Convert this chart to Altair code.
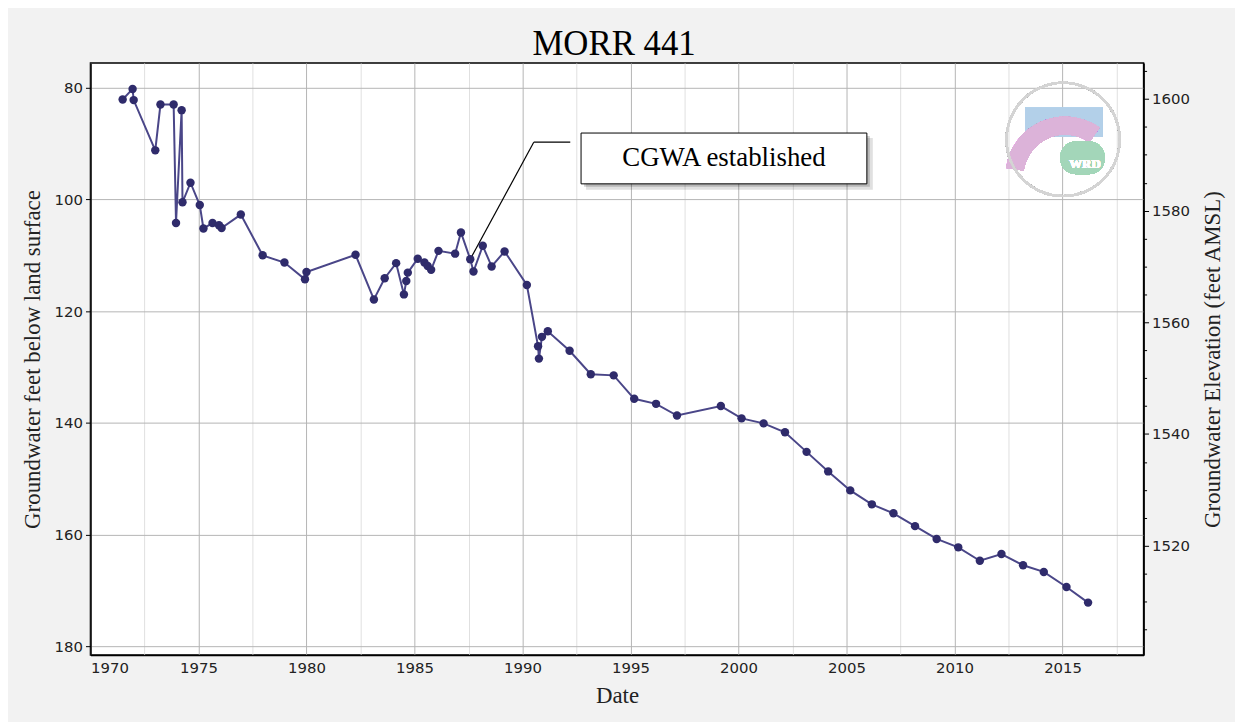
import altair as alt
import pandas as pd

# ---- data ----
dates = [1971.49, 1971.95, 1972.00, 1973.00, 1973.24, 1973.85, 1973.96, 1974.22, 1974.26, 1974.63,
         1975.06, 1975.23, 1975.65, 1975.95, 1976.07, 1976.96, 1977.97, 1978.98, 1979.93, 1980.00,
         1982.27, 1983.12, 1983.62, 1984.15, 1984.51, 1984.62, 1984.69, 1985.15, 1985.46, 1985.61,
         1985.77, 1986.11, 1986.88, 1987.15, 1987.58, 1987.73, 1988.16, 1988.57, 1989.17, 1990.20,
         1990.72, 1990.76, 1990.90, 1991.17, 1992.18, 1993.16, 1994.22, 1995.17, 1996.18, 1997.15,
         1999.18, 2000.14, 2001.16, 2002.15, 2003.15, 2004.15, 2005.17, 2006.17, 2007.17, 2008.17,
         2009.17, 2010.17, 2011.17, 2012.17, 2013.17, 2014.13, 2015.18, 2016.18]
depth = [82.1, 80.2, 82.2, 91.2, 83.0, 83.0, 104.2, 84.0, 100.5, 97.0,
         101.0, 105.2, 104.2, 104.6, 105.1, 102.7, 110.0, 111.3, 114.3, 113.0,
         109.9, 117.9, 114.1, 111.4, 117.0, 114.6, 113.1, 110.6, 111.3, 111.9,
         112.6, 109.2, 109.7, 105.9, 110.7, 112.9, 108.3, 112.0, 109.3, 115.3,
         126.3, 128.5, 124.6, 123.6, 127.1, 131.3, 131.5, 135.7, 136.6, 138.7,
         137.0, 139.2, 140.1, 141.7, 145.2, 148.7, 152.1, 154.6, 156.2, 158.5,
         160.8, 162.3, 164.7, 163.5, 165.5, 166.7, 169.4, 172.2]
land_surface = 1682.0

chart_title = "MORR 441"
x_domain = [1970, 2018.75]
y_domain = [75.55, 181.6]
x_grid = [1970 + 1.25 * k for k in range(40)]
y_ticks = [80, 100, 120, 140, 160, 180]
elev_ticks = list(range(1505, 1606, 5))

annot_text = ["CGWA established"]
annot_seg_x = [1987.58, 1990.52]
annot_seg_y = [110.7, 89.74]
annot_seg_x2 = [1990.52, 1992.21]
annot_seg_y2 = [89.74, 89.74]
annot_box = dict(x=[1992.71], x2=[2005.94], y=[88.1], y2=[97.2])

df = pd.DataFrame({"date": dates, "depth": depth})
df["elev"] = land_surface - df["depth"]

SERIF = "Liberation Serif"
SANS = "DejaVu Sans"

xscale = alt.Scale(domain=x_domain, nice=False, zero=False)
yscale = alt.Scale(domain=y_domain, nice=False, zero=False, reverse=True)

xaxis = alt.Axis(
    title="Date", values=x_grid,
    labelExpr="datum.value % 5 === 0 ? format(datum.value, 'd') : ''",
    gridColor={"condition": {"test": "datum.value % 5 === 0", "value": "#b4b4b4"}, "value": "#e0e0e0"},
    ticks=False, labelPadding=6, labelFont=SANS, labelFontSize=15, labelColor="#222",
    titleFont=SERIF, titleFontSize=23, titleFontWeight="normal", titleColor="#222", titlePadding=9,
    domainColor="black", domainWidth=1.5,
)
yaxis = alt.Axis(
    title="Groundwater feet below land surface", values=y_ticks, gridColor="#b4b4b4",
    tickColor="black", tickSize=5, labelPadding=3, labelFont=SANS, labelFontSize=15, labelColor="#222",
    titleFont=SERIF, titleFontSize=23, titleFontWeight="normal", titleColor="#222", titlePadding=10,
    domainColor="black", domainWidth=1.5,
)

base = alt.Chart(df)

line = base.mark_line(color="#4a4688", strokeWidth=2).encode(
    x=alt.X("date:Q", scale=xscale, axis=xaxis),
    y=alt.Y("depth:Q", scale=yscale, axis=yaxis),
)
pts = base.mark_circle(color="#2f2b6b", opacity=1, size=72).encode(
    x=alt.X("date:Q"), y=alt.Y("depth:Q"),
)

# ---- chart title as a text mark above the plot ----
title_df = pd.DataFrame({"t": [chart_title]})
title_mark = alt.Chart(title_df).mark_text(font=SERIF, fontSize=35, color="black", baseline="alphabetic",
                                           align="center").encode(
    x=alt.value(527), y=alt.value(-8), text="t:N")

# ---- logo (faded WRD badge) ----
logo_blue = base.mark_rect(color="#b3cfe8", opacity=0.8).encode(
    x=alt.value(941), x2=alt.value(1019), y=alt.value(45), y2=alt.value(74))
logo_pink = base.mark_arc(color="#dcb3d8", opacity=0.8).encode(
    x=alt.value(981), y=alt.value(114), theta=alt.value(4.85), theta2=alt.value(6.9),
    radius=alt.value(60), radius2=alt.value(42))
logo_green = base.mark_rect(color="#a3d6b8", opacity=0.85, cornerRadius=16).encode(
    x=alt.value(976), x2=alt.value(1021), y=alt.value(79), y2=alt.value(112))
logo_text = base.mark_text(text="WRD", font=SERIF, fontSize=13, fontWeight="bold", color="white").encode(
    x=alt.value(1001), y=alt.value(102))
logo_ring = base.mark_arc(color="#d4d4d4", opacity=0.9).encode(
    x=alt.value(979), y=alt.value(77), theta=alt.value(0), theta2=alt.value(6.2832),
    radius=alt.value(58), radius2=alt.value(56))
logo = [logo_blue, logo_pink, logo_green, logo_text, logo_ring]

# ---- annotation ----
seg_df = pd.DataFrame({"x": annot_seg_x, "y": annot_seg_y, "x2": annot_seg_x2, "y2": annot_seg_y2})
segs = alt.Chart(seg_df).mark_rule(color="black", strokeWidth=1.2).encode(
    x="x:Q", y="y:Q", x2="x2:Q", y2="y2:Q")
box_df = pd.DataFrame(annot_box)
shadow1 = alt.Chart(box_df).mark_rect(color="#000", opacity=0.12, xOffset=5, x2Offset=6, yOffset=5, y2Offset=6).encode(
    x="x:Q", x2="x2:Q", y="y:Q", y2="y2:Q")
shadow2 = alt.Chart(box_df).mark_rect(color="#000", opacity=0.18, xOffset=3, x2Offset=3, yOffset=3, y2Offset=3).encode(
    x="x:Q", x2="x2:Q", y="y:Q", y2="y2:Q")
box = alt.Chart(box_df).mark_rect(fill="white", stroke="black", strokeWidth=1).encode(
    x="x:Q", x2="x2:Q", y="y:Q", y2="y2:Q")
txt_df = pd.DataFrame({"x": [(annot_box["x"][0] + annot_box["x2"][0]) / 2],
                       "y": [(annot_box["y"][0] + annot_box["y2"][0]) / 2], "t": annot_text})
box_text = alt.Chart(txt_df).mark_text(font=SERIF, fontSize=27, color="black", baseline="middle").encode(
    x="x:Q", y="y:Q", text="t:N")

depth_layer = alt.layer(*logo, segs, shadow1, shadow2, box, box_text, line, pts, title_mark)

elev_axis = alt.Axis(
    title="Groundwater Elevation (feet AMSL)", orient="right", values=elev_ticks,
    labelExpr="datum.value % 20 === 0 ? datum.value : ''",
    tickSize={"condition": {"test": "datum.value % 20 === 0", "value": 5}, "value": 3},
    tickColor="black", grid=False, labelPadding=3, labelFont=SANS, labelFontSize=15, labelColor="#222",
    titleFont=SERIF, titleFontSize=23, titleFontWeight="normal", titleColor="#222", titlePadding=12,
    titleAngle=270, titleBaseline="top", domainColor="black", domainWidth=1.5,
)
elev_layer = base.mark_circle(opacity=0).encode(
    x=alt.X("date:Q"),
    y=alt.Y("elev:Q", scale=alt.Scale(domain=[land_surface - y_domain[1], land_surface - y_domain[0]],
                                       nice=False, zero=False), axis=elev_axis),
)

chart = alt.layer(depth_layer, elev_layer).resolve_scale(y="independent").properties(
    width=1060, height=596,
    background="#f2f2f2",
    padding={"left": 83, "top": 53, "right": 92, "bottom": 65},
    autosize=alt.AutoSizeParams(type="none"),
).configure_view(stroke="black", strokeWidth=1.5, fill="white")

chart.save("out.html", embed_options={"renderer": "svg", "actions": False})
